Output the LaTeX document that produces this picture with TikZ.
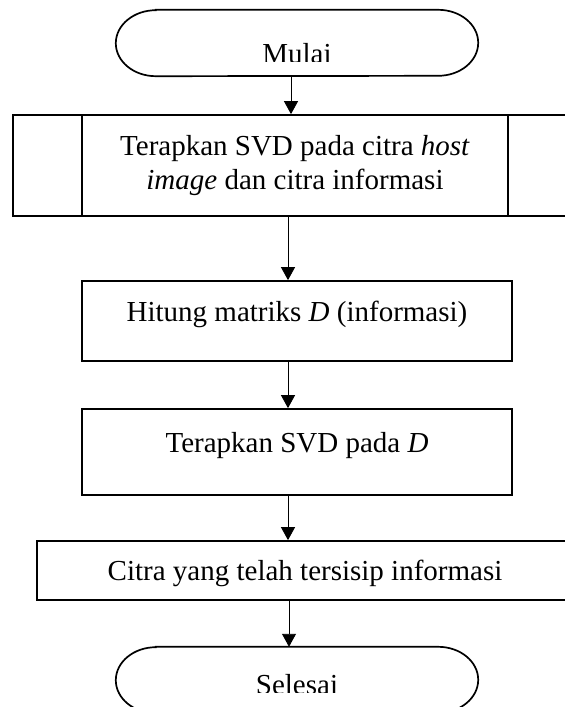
\documentclass[tikz,border=0pt]{standalone}
\usepackage{fontspec}
\setmainfont{Liberation Serif}
\usetikzlibrary{arrows.meta}
\begin{document}
\begin{tikzpicture}[x=1pt,y=-1pt,
  txt/.style={font=\fontsize{29}{34}\selectfont},
  box/.style={txt, draw, line width=1.7pt, inner sep=0pt, align=center},
  term/.style={txt, inner sep=0pt, minimum width=362pt, minimum height=66pt},
  outl/.style={line width=1.7pt},
  arr/.style={line width=0.9pt, -{Triangle[length=13pt,width=14pt]}}]
\useasboundingbox (0,0) rectangle (565,707);
\clip (0,0) rectangle (565,707);

% Start terminal
\begin{scope}
  \clip (0,0) rectangle (565,61);
  \node[term, text height=40pt, text depth=0pt] (start) at (297,43) {Mulai};
\end{scope}
\draw[outl] ([xshift=40pt]start.north west) -- ([xshift=-40pt]start.north east)
  arc[start angle=90,end angle=-90,x radius=40pt,y radius=33pt]
  -- ([xshift=40pt]start.south west)
  arc[start angle=270,end angle=90,x radius=40pt,y radius=33pt] -- cycle;

% Predefined process
\node[box, minimum width=564pt, minimum height=101pt] (pp) at (295,165.5)
  {Terapkan SVD pada citra \textit{host}\\ \textit{image} dan citra informasi};
\draw[outl] ([xshift=70pt]pp.north west) -- ([xshift=70pt]pp.south west);
\draw[outl] ([xshift=-70pt]pp.north east) -- ([xshift=-70pt]pp.south east);

% Process boxes
\node[box, minimum width=430pt, minimum height=80pt, text height=21pt, text depth=21pt] (hit) at (297,321)
  {Hitung matriks \textit{D} (informasi)};
\node[box, minimum width=430pt, minimum height=86pt, text height=21pt, text depth=21pt] (svd) at (297,452)
  {Terapkan SVD pada \textit{D}};
\node[box, minimum width=536pt, minimum height=59pt, text height=20pt, text depth=0pt] (cit) at (305,570.5)
  {Citra yang telah tersisip informasi};

% End terminal
\begin{scope}
  \clip (0,0) rectangle (565,692);
  \node[term, text height=28pt, text depth=0pt] (end) at (297,680) {Selesai};
\end{scope}
\draw[outl] ([xshift=40pt]end.north west) -- ([xshift=-40pt]end.north east)
  arc[start angle=90,end angle=-90,x radius=40pt,y radius=33pt]
  -- ([xshift=40pt]end.south west)
  arc[start angle=270,end angle=90,x radius=40pt,y radius=33pt] -- cycle;

% Connectors
\draw[arr] ([xshift=-6pt]start.south) -- ([xshift=-4pt]pp.north);
\draw[arr] ([xshift=-7pt]pp.south) -- ([xshift=-9pt]hit.north);
\draw[arr] ([xshift=-9pt]hit.south) -- ([xshift=-9pt]svd.north);
\draw[arr] ([xshift=-9pt]svd.south) -- ([xshift=-17pt]cit.north);
\draw[arr] ([xshift=-16pt]cit.south) -- ([xshift=-8pt]end.north);
\end{tikzpicture}
\end{document}
